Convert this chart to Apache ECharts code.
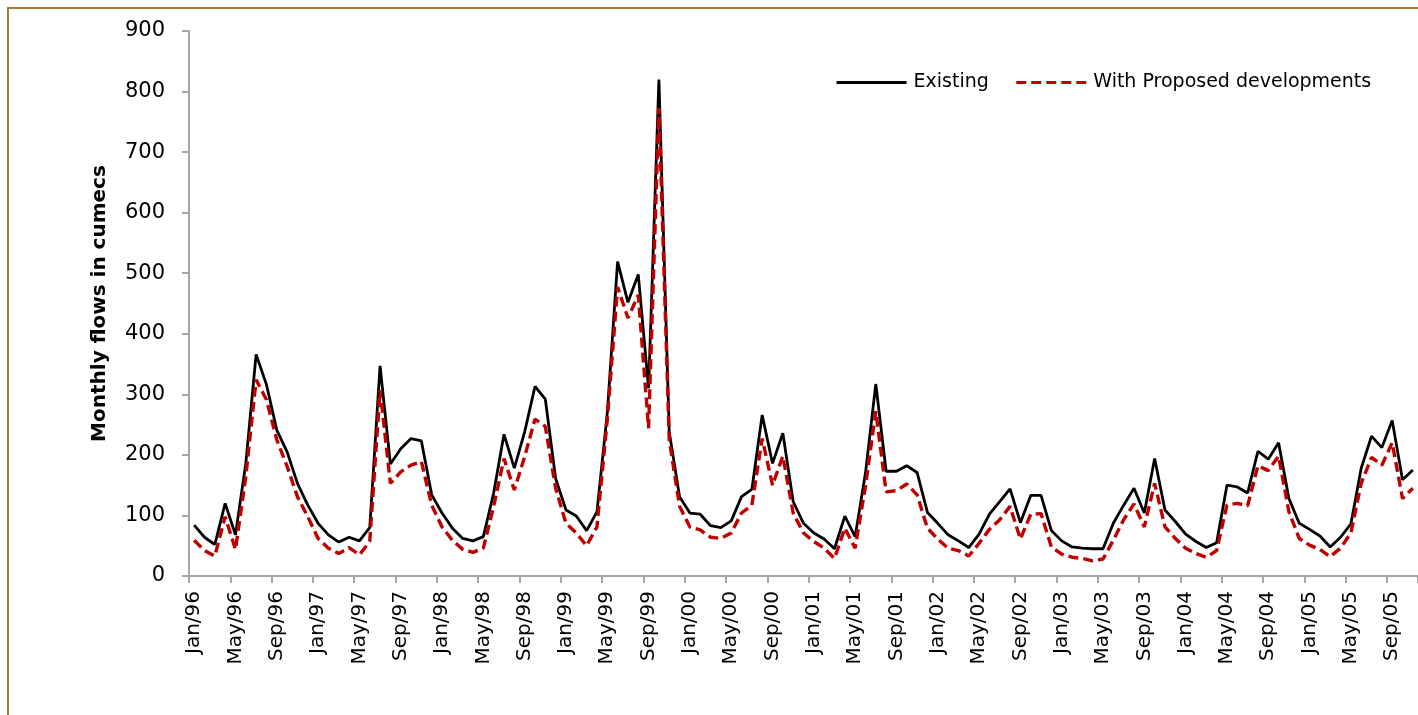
<!DOCTYPE html>
<html>
<head>
<meta charset="utf-8">
<title>Monthly flows</title>
<script src="https://cdn.jsdelivr.net/npm/echarts@6/dist/echarts.min.js"></script>
<style>
  html, body { margin: 0; padding: 0; background: #fff; }
  #chart { width: 1418px; height: 715px; }
</style>
</head>
<body>
<div id="chart"></div>
<script>
// Month labels Jan/96 .. Nov/05
const monthNames = ['Jan', 'Feb', 'Mar', 'Apr', 'May', 'Jun', 'Jul', 'Aug', 'Sep', 'Oct', 'Nov', 'Dec'];
const years = ['96', '97', '98', '99', '00', '01', '02', '03', '04', '05'];
const categories = [];
years.forEach(y => monthNames.forEach(m => categories.push(m + '/' + y)));
categories.splice(119);

// Monthly flows (cumecs), existing conditions
const existing = [
  84, 64, 52, 120, 68, 186, 366, 316, 241, 205, 153, 117,
  87, 68, 56, 64, 58, 80, 347, 185, 210, 227, 223, 134,
  104, 79, 62, 58, 65, 137, 234, 178, 238, 313, 292, 161,
  109, 99, 75, 106, 269, 519, 452, 498, 310, 820, 238, 131,
  104, 102, 83, 80, 91, 131, 143, 266, 186, 236, 123, 87,
  71, 61, 45, 99, 65, 170, 317, 173, 173, 182, 171, 105,
  87, 68, 58, 47, 69, 102, 123, 144, 88, 133, 133, 75,
  58, 48, 46, 45, 45, 87, 117, 145, 104, 194, 109, 90,
  69, 57, 47, 55, 150, 147, 137, 206, 193, 220, 128, 87,
  77, 66, 48, 64, 86, 178, 231, 212, 257, 159, 175
];

// Monthly flows (cumecs) with the proposed developments
const proposed = [
  59, 42, 33, 98, 44, 164, 324, 291, 225, 181, 131, 98,
  62, 46, 37, 47, 35, 57, 307, 153, 172, 183, 189, 117,
  81, 59, 44, 39, 46, 115, 194, 142, 197, 259, 247, 145,
  87, 71, 50, 81, 258, 477, 426, 464, 244, 773, 225, 115,
  81, 76, 64, 62, 71, 104, 117, 227, 150, 198, 104, 71,
  57, 46, 29, 79, 46, 148, 272, 139, 141, 152, 134, 79,
  61, 46, 42, 33, 54, 77, 93, 115, 61, 102, 103, 48,
  36, 31, 29, 25, 28, 59, 93, 119, 81, 153, 81, 62,
  46, 37, 31, 42, 117, 120, 116, 182, 174, 198, 106, 62,
  51, 44, 32, 46, 71, 153, 196, 183, 220, 128, 145
];

const FONT = '"DejaVu Sans", sans-serif';
const AXIS_GREY = '#a6a6a6';

const chart = echarts.init(document.getElementById('chart'), null, { renderer: 'canvas' });

chart.setOption({
  backgroundColor: '#ffffff',
  animation: false,
  graphic: [{
    type: 'rect',
    x: 0, y: 0,
    shape: { x: 8, y: 8, width: 1440, height: 740 },
    style: { fill: 'none', stroke: '#a07c2c', lineWidth: 2 },
    silent: true,
    z: -10
  }],
  grid: { left: 189, top: 31, bottom: 139, right: -4.4, containLabel: false },
  legend: {
    left: 835, top: 73, padding: 0,
    itemWidth: 70, itemHeight: 14, itemGap: 26,
    itemStyle: { opacity: 0 },
    lineStyle: { width: 3 },
    textStyle: { fontFamily: FONT, fontSize: 19, color: '#000', padding: [0, 0, 0, 2] },
    data: ['Existing', 'With Proposed developments']
  },
  xAxis: {
    type: 'category',
    data: categories,
    boundaryGap: true,
    axisLine: { lineStyle: { color: AXIS_GREY, width: 2 } },
    axisTick: { show: true, interval: 3, length: 7, lineStyle: { color: AXIS_GREY, width: 2 } },
    axisLabel: {
      interval: 3, rotate: 90, margin: 15,
      fontFamily: FONT, fontSize: 20, color: '#000'
    },
    splitLine: { show: false }
  },
  yAxis: {
    type: 'value',
    min: 0, max: 900, interval: 100,
    name: 'Monthly flows in cumecs',
    nameLocation: 'middle',
    nameGap: 79,
    nameTextStyle: { fontFamily: FONT, fontSize: 20, fontWeight: 'bold', color: '#000' },
    axisLine: { show: true, lineStyle: { color: AXIS_GREY, width: 2 } },
    axisTick: { show: true, length: 7, lineStyle: { color: AXIS_GREY, width: 2 } },
    axisLabel: { margin: 24, fontFamily: FONT, fontSize: 21, color: '#000' },
    splitLine: { show: false }
  },
  series: [
    {
      name: 'Existing',
      type: 'line',
      data: existing,
      symbol: 'none',
      lineStyle: { color: '#000000', width: 2.8 },
      itemStyle: { color: '#000000' },
      z: 2
    },
    {
      name: 'With Proposed developments',
      type: 'line',
      data: proposed,
      symbol: 'none',
      lineStyle: { color: '#c00000', width: 3.4, type: [10, 5] },
      itemStyle: { color: '#c00000' },
      z: 3
    }
  ]
});
</script>
</body>
</html>
